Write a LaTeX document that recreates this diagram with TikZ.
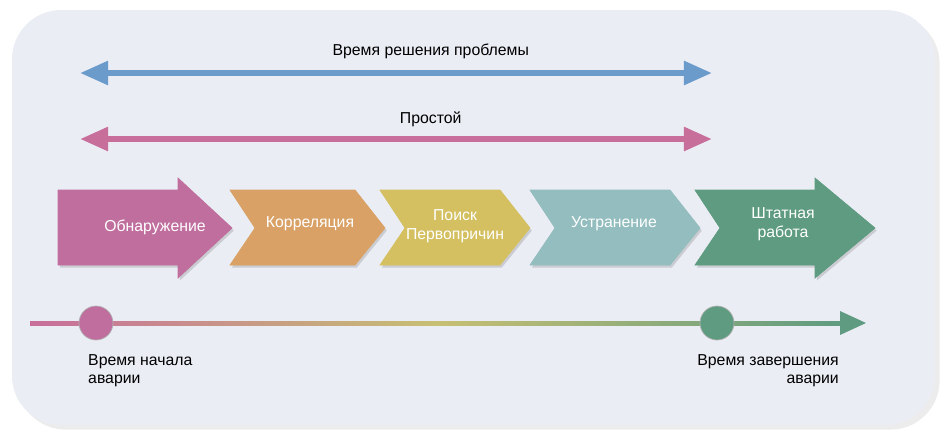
\documentclass[tikz,border=0pt]{standalone}
\usepackage{fontspec}
\setmainfont{Liberation Sans}
\usetikzlibrary{arrows.meta}
\usetikzlibrary{shadows}
\usetikzlibrary{positioning}
\definecolor{bgpanel}{HTML}{EBEDF5}
\definecolor{solveblue}{HTML}{6A9BCB}
\definecolor{downpink}{HTML}{C86E9B}
\definecolor{detpink}{HTML}{C06E9E}
\definecolor{corrorange}{HTML}{D9A165}
\definecolor{rootyellow}{HTML}{D4C060}
\definecolor{fixteal}{HTML}{93BDBE}
\definecolor{okgreen}{HTML}{5E9B80}
\tikzset{span/.style = {line width=3.5, {Triangle[width=13pt,length=16pt]}-{Triangle[width=13pt,length=16pt]}}}
\tikzset{stage/.style = {draw=black!25, line width=0.4, drop shadow={opacity=0.3,shadow xshift=1pt,shadow yshift=-1.5pt}}}
\tikzset{lbl/.style = {font=\fontsize{9}{11}\selectfont, align=center, text=white}}
\tikzset{captext/.style = {font=\fontsize{9}{10.5}\selectfont, align=center}}
\tikzset{dot/.style = {circle, minimum size=0.68cm, inner sep=0, draw=black!30}}

\begin{document}
\begin{tikzpicture}[x=0.02cm, y=-0.02cm]
      \useasboundingbox (0, 0) rectangle (947, 441);
      \fill [bgpanel, rounded corners=28, drop shadow={opacity=0.15}] (12, 10) rectangle (935, 425);

      % spans
      \coordinate (sa) at (80, 73);
      \coordinate (sb) at (712, 73);
      \coordinate (da) at (80, 139);
      \coordinate (db) at (712, 139);
      \draw [span, solveblue] (sa) -- (sb) node [pos=0.555, above=3pt, text=black, captext] {Время решения проблемы};
      \draw [span, downpink] (da) -- (db) node [pos=0.555, above=2pt, text=black, captext] {Простой};

      % stages
      \fill [stage, detpink] (58, 190) -- (178, 190) -- (178, 178) -- (232, 228) -- (178, 278) -- (178, 265) -- (58, 265) -- cycle;
      \fill [stage, corrorange] (230, 190) -- (355, 190) -- (385, 228) -- (355, 265) -- (230, 265) -- (255, 228) -- cycle;
      \fill [stage, rootyellow] (380, 190) -- (500, 190) -- (530, 228) -- (500, 265) -- (380, 265) -- (405, 228) -- cycle;
      \fill [stage, fixteal] (530, 190) -- (670, 190) -- (700, 228) -- (670, 265) -- (530, 265) -- (555, 228) -- cycle;
      \fill [stage, okgreen] (695, 190) -- (815, 190) -- (815, 178) -- (875, 228) -- (815, 278) -- (815, 265) -- (695, 265) -- (720, 228) -- cycle;

      \node [lbl] (detect) at (155, 227) {Обнаружение};
      \node [lbl] (corr) at (310, 224) {Корреляция};
      \node [lbl] (root) at (455, 226) {Поиск\\Первопричин};
      \node [lbl] (fix) at (614, 224) {Устранение};
      \node [lbl] (ok) at (783, 224) {Штатная\\работа};

      % timeline
      \shade [left color=downpink, right color=okgreen, middle color=rootyellow!80!fixteal] (30, 321) rectangle (845, 325);
      \fill [okgreen] (840, 311) -- (866, 323) -- (840, 335) -- cycle;
      \node [dot, fill=detpink] (start) at (96, 323) {};
      \node [dot, fill=okgreen] (end) at (717, 323) {};
      \node [captext, align=left, anchor=north west] (startlbl) at (82, 348) {Время начала\\аварии};
      \node [captext, align=right, anchor=north east] (endlbl) at (845, 348) {Время завершения\\аварии};
    \end{tikzpicture}
\end{document}
